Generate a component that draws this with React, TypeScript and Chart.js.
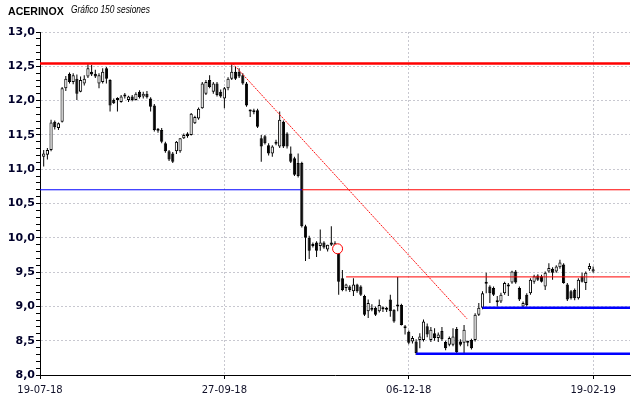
import React, { useEffect, useRef } from 'react';
import { Chart, registerables } from 'chart.js';

Chart.register(...registerables);

// ---- data ----
const xTickIndex = [0, 50, 100, 150];
const xTickLabels = ['19-07-18', '27-09-18', '06-12-18', '19-02-19'];

const opens = [
  11.18, 11.21, 11.28, 11.69, 11.60, 11.69, 12.18, 12.39, 12.27, 12.32,
  12.13, 12.25, 12.35, 12.42, 12.39, 12.25, 12.27, 12.47, 12.30, 12.01,
  12.03, 11.98, 12.09, 12.01, 12.06, 12.01, 12.13, 12.06, 12.10, 12.03,
  11.93, 11.56, 11.57, 11.38, 11.26, 11.23, 11.26, 11.26, 11.45, 11.52,
  11.50, 11.67, 11.74, 11.89, 12.10, 12.30, 12.13, 12.25, 12.13, 12.03,
  12.18, 12.32, 12.42, 12.42, 12.37, 12.25, 11.86, 11.83, 11.86, 11.45,
  11.48, 11.35, 11.23, 11.37, 11.33, 11.69, 11.52, 11.23, 11.16, 11.09,
  11.09, 10.17, 10.00, 9.91, 9.93, 9.88, 9.93, 9.83, 9.93, 9.88,
  9.78, 9.41, 9.27, 9.29, 9.22, 9.32, 9.29, 9.15, 8.93, 8.98,
  8.98, 8.93, 8.96, 8.95, 9.10, 8.95, 9.00, 9.02, 8.70, 8.63,
  8.49, 8.49, 8.51, 8.51, 8.71, 8.51, 8.61, 8.54, 8.64, 8.48,
  8.44, 8.44, 8.67, 8.49, 8.47, 8.47, 8.51, 8.51, 8.88, 8.98,
  9.33, 9.29, 9.27, 9.08, 9.07, 9.19, 9.29, 9.35, 9.51, 9.27,
  9.00, 9.17, 9.19, 9.36, 9.45, 9.44, 9.29, 9.51, 9.55, 9.51,
  9.57, 9.61, 9.32, 9.22, 9.24, 9.12, 9.44, 9.34, 9.54, 9.51,
];
const highs = [
  11.28, 11.31, 11.72, 11.71, 11.68, 12.20, 12.36, 12.41, 12.40, 12.38,
  12.35, 12.37, 12.53, 12.52, 12.45, 12.40, 12.47, 12.49, 12.31, 12.03,
  12.05, 12.08, 12.11, 12.07, 12.08, 12.12, 12.15, 12.13, 12.14, 12.05,
  11.95, 11.60, 11.60, 11.40, 11.28, 11.25, 11.41, 11.45, 11.52, 11.54,
  11.82, 11.78, 11.90, 12.27, 12.30, 12.37, 12.27, 12.27, 12.16, 12.20,
  12.34, 12.53, 12.49, 12.47, 12.40, 12.27, 11.87, 11.88, 11.88, 11.50,
  11.50, 11.38, 11.35, 11.43, 11.84, 11.71, 11.54, 11.33, 11.18, 11.23,
  11.11, 10.19, 10.03, 9.93, 9.95, 10.12, 9.95, 9.90, 10.17, 9.95,
  9.80, 9.53, 9.33, 9.31, 9.41, 9.33, 9.31, 9.17, 9.10, 9.03,
  9.00, 9.10, 9.00, 8.99, 9.17, 8.96, 9.43, 9.04, 8.73, 8.65,
  8.57, 8.52, 8.61, 8.81, 8.75, 8.70, 8.68, 8.62, 8.70, 8.50,
  8.56, 8.68, 8.70, 8.52, 8.73, 8.50, 8.53, 8.90, 9.05, 9.22,
  9.49, 9.31, 9.29, 9.15, 9.20, 9.36, 9.34, 9.52, 9.53, 9.29,
  9.07, 9.19, 9.41, 9.46, 9.47, 9.46, 9.51, 9.63, 9.57, 9.60,
  9.68, 9.63, 9.34, 9.24, 9.26, 9.41, 9.49, 9.51, 9.63, 9.58,
];
const lows = [
  11.04, 11.14, 11.26, 11.58, 11.57, 11.68, 12.14, 12.25, 12.24, 12.01,
  12.12, 12.22, 12.33, 12.36, 12.33, 12.18, 12.25, 12.25, 11.84, 11.95,
  11.84, 11.97, 12.03, 11.98, 11.99, 12.00, 12.03, 12.03, 12.03, 11.84,
  11.55, 11.53, 11.38, 11.24, 11.12, 11.09, 11.22, 11.24, 11.44, 11.46,
  11.49, 11.66, 11.72, 11.88, 12.08, 12.18, 12.10, 12.06, 12.04, 11.89,
  12.15, 12.30, 12.30, 12.33, 12.23, 11.91, 11.76, 11.80, 11.60, 11.11,
  11.36, 11.20, 11.18, 11.35, 11.31, 11.31, 11.30, 11.09, 10.90, 10.88,
  10.15, 9.66, 9.69, 9.86, 9.72, 9.81, 9.84, 9.80, 9.88, 9.83,
  9.17, 9.22, 9.22, 9.21, 9.15, 9.20, 9.15, 8.86, 8.83, 8.93,
  8.86, 8.91, 8.92, 8.92, 8.85, 8.76, 8.93, 8.72, 8.59, 8.45,
  8.46, 8.29, 8.39, 8.49, 8.55, 8.48, 8.50, 8.48, 8.50, 8.36,
  8.42, 8.42, 8.31, 8.42, 8.32, 8.42, 8.37, 8.49, 8.86, 8.96,
  9.19, 9.05, 9.15, 9.00, 9.05, 9.17, 9.15, 9.33, 9.33, 9.08,
  8.99, 9.00, 9.17, 9.33, 9.37, 9.35, 9.24, 9.49, 9.39, 9.49,
  9.55, 9.33, 9.08, 9.10, 9.09, 9.10, 9.35, 9.24, 9.52, 9.49,
];
const closes = [
  11.23, 11.28, 11.68, 11.61, 11.67, 12.18, 12.32, 12.27, 12.37, 12.10,
  12.30, 12.32, 12.47, 12.38, 12.35, 12.37, 12.42, 12.32, 11.93, 11.96,
  12.01, 12.06, 12.06, 12.06, 12.01, 12.10, 12.05, 12.10, 12.05, 11.91,
  11.57, 11.59, 11.40, 11.26, 11.14, 11.11, 11.40, 11.45, 11.50, 11.48,
  11.81, 11.76, 11.88, 12.25, 12.27, 12.20, 12.25, 12.08, 12.06, 12.18,
  12.32, 12.42, 12.32, 12.35, 12.25, 11.93, 11.84, 11.86, 11.62, 11.33,
  11.38, 11.23, 11.33, 11.40, 11.72, 11.33, 11.33, 11.11, 10.92, 10.90,
  10.17, 10.00, 9.81, 9.88, 9.81, 9.93, 9.86, 9.90, 9.90, 9.92,
  9.36, 9.24, 9.32, 9.24, 9.32, 9.22, 9.17, 8.88, 9.05, 8.95,
  8.88, 9.02, 8.98, 8.98, 8.93, 8.78, 9.02, 8.73, 8.68, 8.47,
  8.54, 8.32, 8.56, 8.78, 8.59, 8.66, 8.54, 8.59, 8.52, 8.39,
  8.54, 8.56, 8.33, 8.44, 8.66, 8.49, 8.39, 8.88, 8.98, 9.19,
  9.35, 9.19, 9.17, 9.06, 9.17, 9.34, 9.31, 9.51, 9.35, 9.10,
  9.05, 9.02, 9.39, 9.44, 9.39, 9.36, 9.49, 9.56, 9.49, 9.58,
  9.64, 9.34, 9.10, 9.12, 9.12, 9.39, 9.36, 9.49, 9.59, 9.54,
];

// support / resistance levels (value, from session, to session)
const levelValue = [12.54, 10.7, 10.7, 9.43, 8.98, 8.31];
const levelFrom = [0, 0, 71, 83, 120, 102];
const levelTo = [160, 71, 160, 160, 160, 160];

// trend line end points
const trendX = [52.3, 115.8];
const trendY = [12.54, 8.82];

// marked gap
const markX = [80.7];
const markY = [9.84];

// ---- styles ----
const levelColor = ['#ff0000', '#0000ff', '#ff0000', '#ff0000', '#0000ff', '#0000ff'];
const levelWidth = [2.5, 1, 1, 1, 2.6, 2.6];
const X_MIN = 0;
const X_MAX = 160;
const Y_MIN = 8;
const Y_MAX = 13;

const isMajor = (v: number) => Math.abs(v * 2 - Math.round(v * 2)) < 1e-6;

export default function App() {
  const ref = useRef<HTMLCanvasElement | null>(null);

  useEffect(() => {
    if (!ref.current) return;
    const idx = opens.map((_, i) => i);

    const datasets: any[] = [];
    datasets.push({
      type: 'bar',
      data: idx.map((i) => ({ x: i + 1, y: [lows[i], highs[i]] })),
      backgroundColor: '#000000',
      borderWidth: 0,
      barThickness: 1,
      maxBarThickness: 1,
      grouped: false,
      inflateAmount: 0,
      minBarLength: 1,
      order: 3,
    });
    datasets.push({
      type: 'bar',
      data: idx.map((i) => ({ x: i + 1, y: [opens[i], closes[i]] })),
      backgroundColor: idx.map((i) => (closes[i] >= opens[i] ? '#ffffff' : '#000000')),
      borderColor: '#000000',
      borderWidth: 1,
      borderSkipped: false,
      barThickness: 3.2,
      maxBarThickness: 3.2,
      grouped: false,
      inflateAmount: 0,
      minBarLength: 2,
      order: 2,
    });
    levelValue.forEach((v, k) => {
      datasets.push({
        type: 'line',
        data: [
          { x: levelFrom[k], y: v },
          { x: levelTo[k], y: v },
        ],
        borderColor: levelColor[k],
        borderWidth: levelWidth[k],
        pointRadius: 0,
        tension: 0,
        borderCapStyle: 'butt',
        order: 1,
      });
    });
    datasets.push({
      type: 'line',
      data: trendX.map((x, k) => ({ x, y: trendY[k] })),
      borderColor: '#ff1010',
      borderWidth: 1,
      borderDash: [2, 1],
      pointRadius: 0,
      tension: 0,
      order: 1,
    });
    datasets.push({
      type: 'line',
      data: markX.map((x, k) => ({ x, y: markY[k] })),
      showLine: false,
      pointStyle: 'circle',
      pointRadius: 5,
      pointBorderColor: '#ff0000',
      pointBackgroundColor: '#ffffff',
      pointBorderWidth: 1,
      order: 0,
    });

    const chart = new Chart(ref.current, {
      type: 'bar',
      data: { datasets },
      options: {
        animation: false,
        responsive: false,
        devicePixelRatio: 1,
        events: [],
        layout: { padding: { top: 32, right: 10, left: 0, bottom: 0 } },
        plugins: { legend: { display: false }, tooltip: { enabled: false }, title: { display: false } },
        scales: {
          x: {
            type: 'linear',
            min: X_MIN,
            max: X_MAX,
            offset: false,
            afterBuildTicks: (s: any) => {
              s.ticks = xTickIndex.map((v) => ({ value: v }));
            },
            afterFit: (s: any) => {
              s.height = 23;
            },
            ticks: {
              autoSkip: false,
              maxRotation: 0,
              padding: 5,
              color: '#101028',
              font: { family: 'DejaVu Sans', size: 10 },
              callback: (_v: any, i: number) => xTickLabels[i],
            },
            grid: {
              offset: false,
              color: (c: any) => (c.tick && c.tick.value === X_MIN ? 'rgba(0,0,0,0)' : '#c8c8d0'),
              lineWidth: 1,
              tickColor: '#000000',
              tickLength: 4,
              drawTicks: true,
            },
            border: { display: true, color: '#000000', width: 1, dash: [2, 2] },
          },
          y: {
            type: 'linear',
            min: Y_MIN,
            max: Y_MAX,
            position: 'left',
            afterBuildTicks: (s: any) => {
              const t: any[] = [];
              for (let k = Y_MIN * 10; k <= Y_MAX * 10; k++) t.push({ value: k / 10 });
              s.ticks = t;
            },
            afterFit: (s: any) => {
              s.width = 40;
            },
            ticks: {
              autoSkip: false,
              padding: 1,
              color: '#00002a',
              font: { family: 'DejaVu Sans', size: 11, weight: 'bold' },
              callback: (v: any) => (isMajor(v) ? Number(v).toFixed(1).replace('.', ',') : ''),
            },
            grid: {
              color: (c: any) =>
                c.tick && isMajor(c.tick.value) && Math.abs(c.tick.value - Y_MIN) > 1e-6 ? '#c8c8d0' : 'rgba(0,0,0,0)',
              lineWidth: 1,
              tickColor: '#000000',
              tickLength: 4,
              drawTicks: true,
            },
            border: { display: true, color: '#000000', width: 1, dash: [2, 2] },
          },
        },
      } as any,
    });
    return () => chart.destroy();
  }, []);

  return (
    <div style={{ position: 'absolute', left: 0, top: 0, width: 640, height: 398, background: '#ffffff' }}>
      <div
        style={{
          position: 'absolute',
          left: 8,
          top: 3,
          whiteSpace: 'nowrap',
          fontFamily: '"Liberation Sans", Arial, sans-serif',
          lineHeight: '14px',
          color: '#000000',
        }}
      >
        <span style={{ fontWeight: 'bold', fontSize: 11, display: 'inline-block', transform: 'scaleX(0.96)', transformOrigin: 'left center' }}>
          ACERINOX
        </span>
        <span
          style={{
            fontStyle: 'italic',
            fontSize: 10,
            position: 'absolute',
            left: 63,
            top: 0,
            display: 'inline-block',
            transform: 'scaleX(0.84)',
            transformOrigin: 'left center',
          }}
        >
          Gráfico 150 sesiones
        </span>
      </div>
      <canvas ref={ref} width={640} height={398} style={{ display: 'block', width: 640, height: 398 }} />
    </div>
  );
}
